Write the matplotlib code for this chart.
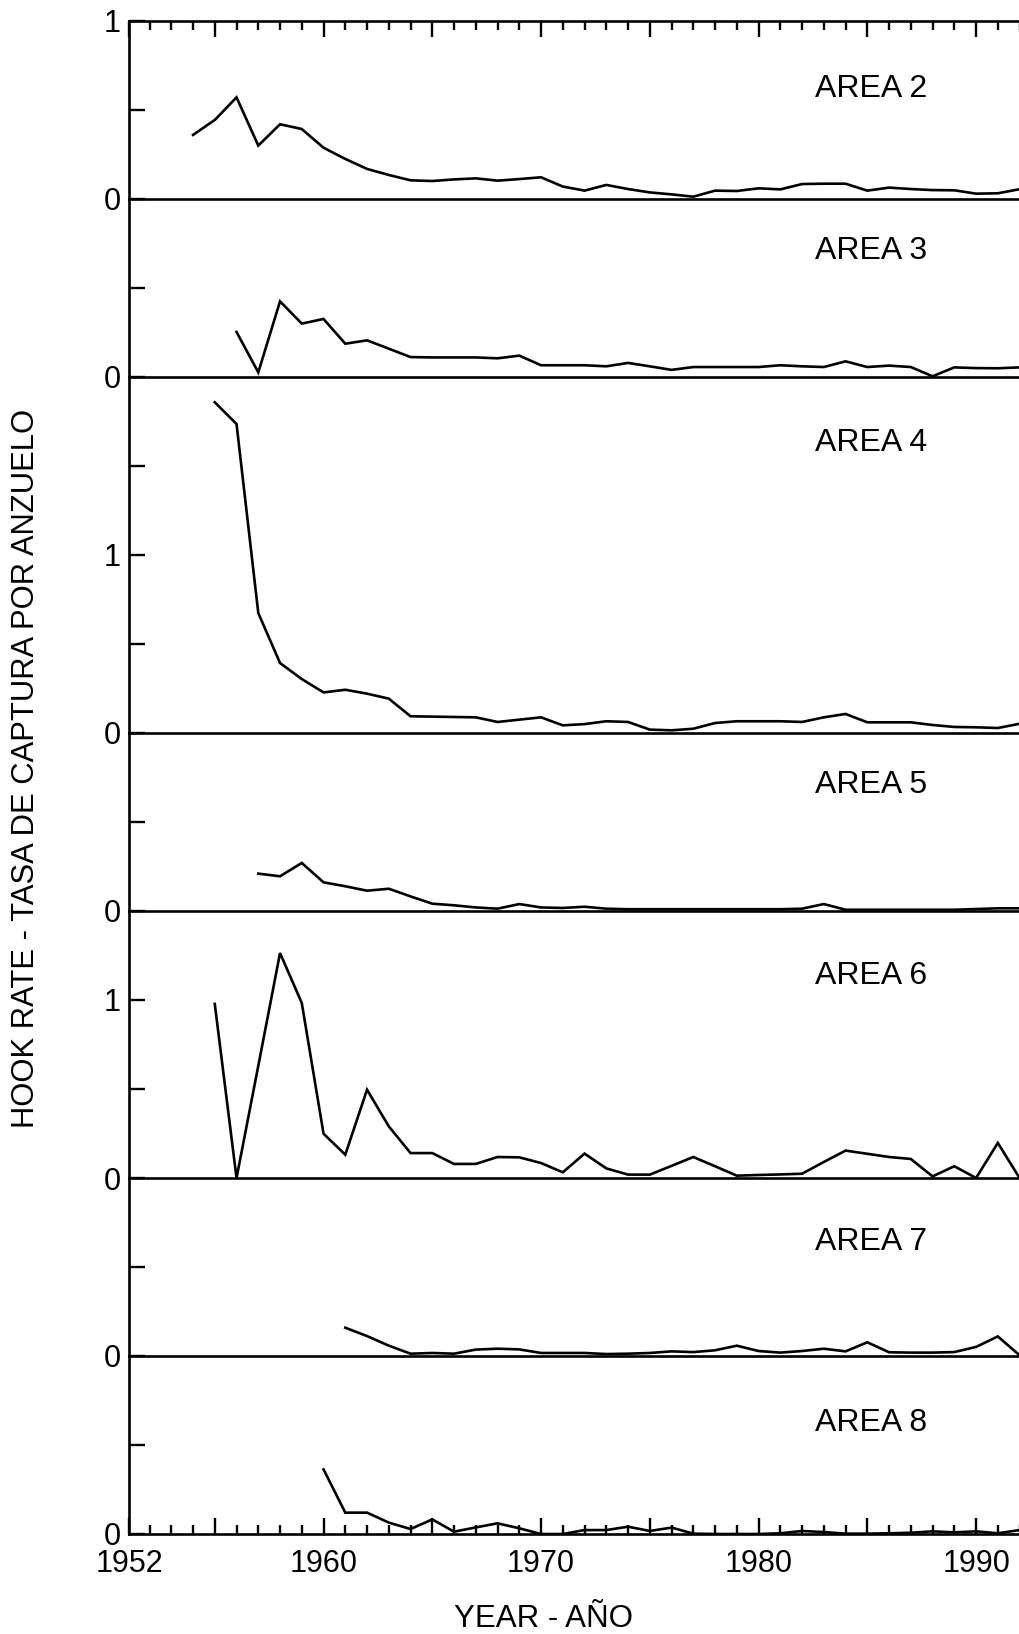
import numpy as np
import matplotlib
matplotlib.use('Agg')
import matplotlib.pyplot as plt
from matplotlib.ticker import MultipleLocator

plt.rcParams['font.family'] = ['Liberation Sans', 'DejaVu Sans']

# Hook rate per year, one series per area
area_names = ['AREA 2', 'AREA 3', 'AREA 4', 'AREA 5', 'AREA 6', 'AREA 7', 'AREA 8']
first_years = [1954, 1956, 1955, 1957, 1955, 1961, 1960]
last_year = 1992

area2 = [0.36, 0.444, 0.571, 0.30, 0.42, 0.393, 0.288, 0.225, 0.169, 0.135,
         0.105, 0.101, 0.11, 0.116, 0.103, 0.112, 0.122, 0.07, 0.047, 0.079,
         0.056, 0.037, 0.026, 0.013, 0.047, 0.045, 0.06, 0.054, 0.084, 0.086,
         0.086, 0.047, 0.064, 0.056, 0.05, 0.049, 0.03, 0.032, 0.055]
area3 = [0.253, 0.026, 0.425, 0.30, 0.326, 0.187, 0.206, 0.159, 0.112, 0.11,
         0.11, 0.11, 0.105, 0.12, 0.066, 0.066, 0.066, 0.06, 0.079, 0.06,
         0.04, 0.056, 0.056, 0.056, 0.056, 0.066, 0.06, 0.056, 0.088, 0.056,
         0.064, 0.056, 0.004, 0.054, 0.05, 0.049, 0.054]
area4 = [1.858, 1.736, 0.674, 0.393, 0.303, 0.228, 0.243, 0.221, 0.193, 0.094,
         0.092, 0.09, 0.088, 0.062, 0.075, 0.088, 0.043, 0.05, 0.066, 0.062,
         0.019, 0.015, 0.024, 0.056, 0.066, 0.066, 0.066, 0.062, 0.088, 0.107,
         0.06, 0.06, 0.06, 0.045, 0.034, 0.032, 0.028, 0.052]
area5 = [0.21, 0.195, 0.27, 0.161, 0.139, 0.114, 0.125, 0.082, 0.041, 0.032,
         0.02, 0.013, 0.039, 0.02, 0.017, 0.024, 0.013, 0.01, 0.01, 0.01,
         0.01, 0.01, 0.01, 0.01, 0.01, 0.013, 0.039, 0.007, 0.007, 0.007,
         0.007, 0.007, 0.007, 0.011, 0.015, 0.015]
area6 = [0.978, 0.0, 0.63, 1.264, 0.983, 0.249, 0.131, 0.496, 0.29, 0.14,
         0.14, 0.079, 0.079, 0.118, 0.116, 0.084, 0.032, 0.137, 0.054, 0.019,
         0.019, 0.068, 0.118, 0.066, 0.013, 0.017, 0.02, 0.024, 0.09, 0.154,
         0.136, 0.118, 0.107, 0.009, 0.066, 0.0, 0.197, 0.0]
area7 = [0.159, 0.112, 0.058, 0.013, 0.017, 0.013, 0.036, 0.041, 0.037, 0.017,
         0.017, 0.017, 0.011, 0.013, 0.017, 0.026, 0.022, 0.032, 0.058, 0.028,
         0.019, 0.028, 0.041, 0.026, 0.077, 0.021, 0.019, 0.019, 0.022, 0.051,
         0.11, 0.004]
area8 = [0.363, 0.12, 0.12, 0.064, 0.028, 0.082, 0.013, 0.037, 0.06, 0.032,
         0.0, 0.0, 0.022, 0.022, 0.041, 0.017, 0.036, 0.002, 0.0, 0.0,
         0.0, 0.004, 0.017, 0.011, 0.002, 0.002, 0.004, 0.007, 0.015, 0.009,
         0.015, 0.004, 0.022]
series = [area2, area3, area4, area5, area6, area7, area8]

# y range of each panel (same units per inch in every panel)
panel_tops = [1, 1, 2, 1, 1.5, 1, 1]
label_y = [0.617, 0.706, 1.63, 0.706, 1.133, 0.64, 0.624]

x_left, x_right = 1951.07, 1992.02
xtick_pos = [x_left, 1955, 1960, 1965, 1970, 1975, 1980, 1985, 1990]
xtick_lab = ['1952', '', '1960', '', '1970', '', '1980', '', '1990']

fig = plt.figure(figsize=(10.2, 16.34), dpi=100)
gs = fig.add_gridspec(len(series), 1, height_ratios=panel_tops, hspace=0,
                      left=129.3 / 1020, right=1.0,
                      top=1 - 21 / 1634, bottom=1 - 1534 / 1634)

axes = []
for i, (vals, start, top) in enumerate(zip(series, first_years, panel_tops)):
    ax = fig.add_subplot(gs[i])
    # transparent so the panel below doesn't hide half of the zero line above
    ax.set_facecolor('none')
    axes.append(ax)
    years = np.arange(start, last_year + 1)
    ax.plot(years, vals, color='black', lw=1.9, solid_joinstyle='miter')

    ax.set_xlim(x_left, x_right)
    ax.set_ylim(0, top)

    for side in ['top', 'right']:
        ax.spines[side].set_visible(False)
    ax.spines['left'].set_linewidth(1.9)
    ax.spines['bottom'].set_linewidth(1.9)
    if i == 0:
        ax.spines['top'].set_visible(True)
        ax.spines['top'].set_linewidth(1.9)

    majors = [v for v in np.arange(0, top + 0.01, 1.0) if i == 0 or v < top]
    ax.set_yticks(majors)
    ax.set_yticklabels([f'{int(v)}' for v in majors])
    ax.set_yticks(list(np.arange(0.5, top, 1.0)), minor=True)
    ax.tick_params(axis='y', which='both', direction='in', length=11.5,
                   width=1.7, labelsize=22, pad=6, left=True, right=False)

    ax.set_xticks(xtick_pos)
    ax.set_xticklabels(xtick_lab)
    ax.xaxis.set_minor_locator(MultipleLocator(1))
    ax.tick_params(axis='x', which='major', direction='in', length=11.5,
                   width=1.7, labelsize=22, pad=11)
    ax.tick_params(axis='x', which='minor', direction='in', length=6.5,
                   width=1.7)
    if i == 0:
        ax.tick_params(axis='x', which='both', top=True, bottom=False,
                       labelbottom=False, labeltop=False)
    elif i == len(series) - 1:
        ax.tick_params(axis='x', which='both', top=False, bottom=True,
                       labelbottom=True)
    else:
        ax.tick_params(axis='x', which='both', top=False, bottom=False,
                       labelbottom=False)

    ax.text(0.833, label_y[i], area_names[i], transform=ax.get_yaxis_transform(),
            ha='center', va='center', fontsize=23)

fig.text(544 / 1020, 1 - 1619 / 1634, 'YEAR - AÑO', ha='center', va='center',
         fontsize=22.5)
fig.text(26 / 1020, 1 - 768 / 1634, 'HOOK RATE - TASA DE CAPTURA POR ANZUELO',
         ha='center', va='center', rotation=90, fontsize=22.3)

fig.savefig('out.png', dpi=100, facecolor='white')
print('Saved: out.png')
